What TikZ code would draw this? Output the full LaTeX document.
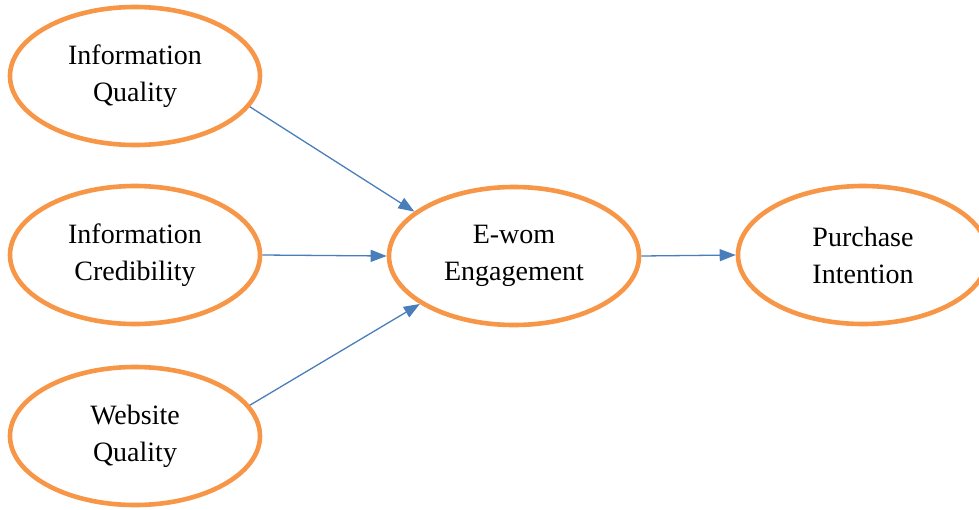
\documentclass[tikz,border=0pt]{standalone}
\usepackage{fontspec}
\setmainfont{Liberation Serif}
\usepackage{tikz}
\usetikzlibrary{arrows.meta,shapes.geometric}
\definecolor{ovalorange}{HTML}{F79646}
\definecolor{arrowblue}{HTML}{4A7EBB}
\tikzset{
    myoval/.style={ellipse,draw=ovalorange,line width=4.6pt,minimum width=250pt,
      minimum height=138pt,inner sep=0pt,align=center,
      font=\fontsize{28}{37}\selectfont},
    myarrow/.style={draw=arrowblue,line width=1.3pt,
      -{Triangle[length=16pt,width=12pt]}}
}
\begin{document}
\begin{tikzpicture}[x=1pt,y=-1pt]
  \useasboundingbox (0,0) rectangle (979,509);

  % ovals
  \node[myoval] (iq) at (135,76) {Information\\Quality};
  \node[myoval] (ic) at (135,255) {Information\\Credibility};
  \node[myoval] (wq) at (135,436) {Website\\Quality};
  \node[myoval] (ewom) at (514,256) {E-wom\\Engagement};
  \node[myoval] (pi) at (863,255) {Purchase\\Intention};

  % arrows
  \draw[myarrow] (iq.-15) -- (ewom.156);
  \draw[myarrow] (ic.east) -- (ewom.west);
  \draw[myarrow] (wq.15) -- (ewom.207);
  \draw[myarrow] (ewom.east) -- (pi.west);
\end{tikzpicture}
\end{document}
